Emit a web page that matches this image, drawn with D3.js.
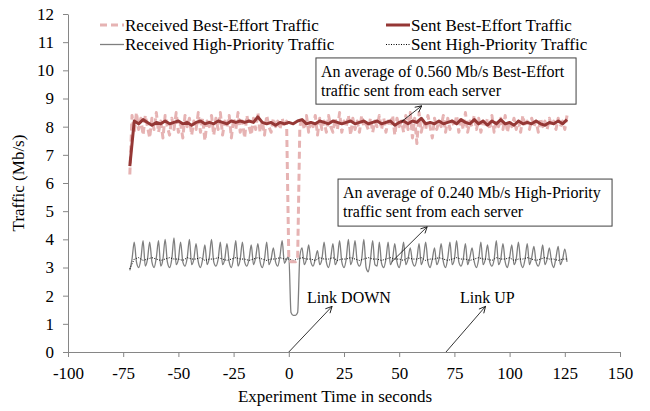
<!DOCTYPE html>
<html>
<head>
<meta charset="utf-8">
<script src="https://cdn.jsdelivr.net/npm/d3@7"></script>
<style>
  html, body { margin: 0; padding: 0; background: #fff; }
  svg text { font-family: "Liberation Serif", "Times New Roman", serif; fill: #000; }
</style>
</head>
<body>
<svg id="chart" width="650" height="411"></svg>
<script>
const xTicks = [-100, -75, -50, -25, 0, 25, 50, 75, 100, 125, 150];
const yTicks = [0, 1, 2, 3, 4, 5, 6, 7, 8, 9, 10, 11, 12];

// sampled from t = -72 s, one value per second
const recvBestEffort = [
  6.3, 8.4, 7.8, 8.5, 7.9, 8.3, 7.7, 8.4, 8.0, 7.6,
  8.3, 7.9, 8.5, 7.8, 8.2, 7.6, 8.4, 8.0, 7.7, 8.3,
  7.9, 8.5, 7.8, 8.1, 7.6, 8.4, 8.0, 8.3, 7.7, 8.2,
  7.9, 8.5, 7.8, 8.3, 7.5, 8.2, 8.0, 8.4, 7.7, 8.3,
  7.9, 8.5, 7.7, 8.2, 8.0, 8.4, 7.6, 8.3, 7.9, 8.5,
  7.8, 8.2, 7.6, 8.4, 8.0, 7.7, 8.3, 7.9, 8.5, 7.8,
  8.2, 7.7, 8.4, 8.0, 7.8, 8.3, 8.0, 8.2, 7.9, 8.3,
  8.0, 8.2, 3.3, 3.2, 3.2, 3.2, 3.3, 8.0, 8.3, 7.9,
  8.4, 7.8, 8.2, 8.0, 8.4, 7.7, 8.3, 7.9, 8.2, 7.8,
  8.4, 8.0, 7.8, 8.3, 7.9, 8.5, 7.8, 8.2, 8.0, 8.4,
  7.7, 8.3, 7.9, 8.2, 7.8, 8.4, 8.0, 8.1, 7.9, 8.3,
  7.8, 8.2, 8.0, 8.4, 7.9, 8.3, 7.8, 8.2, 8.0, 8.4,
  7.7, 8.3, 8.0, 8.2, 7.8, 8.4, 7.9, 8.5, 7.6, 8.3,
  7.4, 8.5, 7.8, 8.2, 7.9, 8.4, 8.0, 7.6, 8.3, 7.9,
  8.2, 8.0, 8.4, 7.8, 8.3, 7.9, 8.2, 8.0, 8.4, 7.8,
  8.3, 7.9, 8.5, 7.8, 8.2, 8.0, 8.4, 7.9, 8.3, 7.8,
  8.2, 8.0, 8.3, 7.9, 8.4, 7.8, 8.2, 8.0, 8.3, 7.9,
  8.4, 7.8, 8.2, 8.0, 8.3, 7.9, 8.2, 7.8, 8.4, 8.0,
  8.2, 7.9, 8.3, 8.0, 8.2, 7.8, 8.3, 8.0, 8.2, 7.9,
  8.3, 8.0, 8.2, 7.9, 8.3, 8.0, 8.2, 7.9, 8.4
];

// sampled from t = -72 s, one value every 2 seconds
const sentBestEffort = [
  6.6, 8.2, 8.1, 8.25, 8.15, 8.05, 8.15, 8.1, 8.2, 8.1,
  8.15, 8.2, 8.1, 8.15, 8.05, 8.15, 8.2, 8.1, 8.15, 8.1,
  8.2, 8.15, 8.1, 8.2, 8.15, 8.2, 8.15, 8.2, 8.15, 8.35,
  8.15, 8.1, 8.15, 8.05, 8.15, 8.1, 8.15, 8.1, 8.2, 8.25,
  8.1, 8.15, 8.1, 8.2, 8.15, 8.1, 8.2, 8.15, 8.1, 8.15,
  8.2, 8.1, 8.15, 8.2, 8.1, 8.15, 8.2, 8.1, 8.15, 8.2,
  8.05, 8.15, 8.2, 8.1, 8.2, 8.15, 8.3, 8.1, 8.15, 8.1,
  8.2, 8.1, 8.15, 8.2, 8.1, 8.25, 8.15, 8.1, 8.25, 8.1,
  8.2, 8.05, 8.2, 8.1, 8.25, 8.1, 8.15, 8.05, 8.2, 8.1,
  8.15, 8.1, 8.2, 8.1, 8.05, 8.15, 8.1, 8.2, 8.1, 8.25
];

// sampled from t = -72 s, one value per second
const recvHighPriority = [
  2.9, 3.3, 3.9, 3.2, 3.0, 3.3, 3.95, 3.05, 3.3, 3.9,
  3.2, 3.0, 3.35, 3.95, 3.05, 3.3, 4.0, 3.2, 3.0, 3.3,
  4.05, 3.1, 3.3, 3.9, 3.2, 3.05, 3.35, 4.0, 3.1, 3.3,
  3.85, 3.2, 3.0, 3.3, 3.8, 3.1, 3.35, 4.0, 3.2, 3.05,
  3.3, 3.9, 3.1, 3.3, 3.85, 3.2, 3.0, 3.35, 3.95, 3.05,
  3.3, 3.9, 3.2, 3.05, 3.3, 3.8, 3.1, 3.35, 3.85, 3.2,
  3.0, 3.3, 3.9, 3.1, 3.3, 3.7, 3.2, 3.05, 3.4, 3.95,
  3.15, 3.3, 3.4, 1.4, 1.3, 1.3, 1.4, 3.4, 3.7, 3.1,
  3.3, 3.8, 3.2, 3.05, 3.3, 3.6, 3.1, 3.3, 3.9, 3.2,
  3.0, 3.35, 3.85, 3.1, 3.3, 3.95, 3.2, 3.0, 3.3, 4.0,
  3.1, 3.35, 3.95, 3.2, 3.05, 3.3, 4.0, 3.0, 2.85, 3.3,
  3.95, 3.1, 3.05, 3.9, 3.15, 3.0, 3.3, 3.9, 3.1, 3.3,
  3.85, 3.2, 3.0, 3.35, 3.9, 3.1, 3.3, 3.7, 3.2, 3.05,
  3.3, 3.85, 3.1, 3.35, 3.9, 3.2, 3.0, 3.3, 3.7, 3.1,
  3.3, 3.85, 3.2, 3.0, 3.35, 3.9, 3.1, 3.3, 3.95, 3.2,
  3.05, 3.3, 3.85, 3.1, 3.35, 3.7, 3.2, 3.0, 3.3, 3.9,
  3.1, 3.3, 3.8, 3.2, 3.05, 3.3, 3.95, 3.1, 3.3, 3.85,
  3.2, 3.0, 3.35, 3.8, 3.1, 3.3, 3.9, 3.2, 3.0, 3.3,
  3.85, 3.1, 3.35, 3.75, 3.2, 3.05, 3.3, 3.8, 3.1, 3.3,
  3.7, 3.2, 3.0, 3.35, 3.75, 3.1, 3.3, 3.65, 3.2
];

// sampled from t = -72 s, one value every 2 seconds
const sentHighPriority = [
  2.95, 3.3, 3.35, 3.25, 3.3, 3.35, 3.3, 3.25, 3.3, 3.35,
  3.3, 3.3, 3.25, 3.35, 3.3, 3.3, 3.35, 3.25, 3.3, 3.3,
  3.35, 3.3, 3.25, 3.3, 3.35, 3.3, 3.3, 3.25, 3.3, 3.35,
  3.3, 3.25, 3.3, 3.3, 3.35, 3.3, 3.3, 3.25, 3.3, 3.35,
  3.3, 3.3, 3.25, 3.35, 3.3, 3.3, 3.35, 3.25, 3.3, 3.3,
  3.35, 3.3, 3.25, 3.3, 3.35, 3.3, 3.3, 3.25, 3.3, 3.35,
  3.3, 3.3, 3.25, 3.35, 3.3, 3.3, 3.35, 3.25, 3.3, 3.3,
  3.35, 3.3, 3.25, 3.3, 3.35, 3.3, 3.3, 3.25, 3.3, 3.35,
  3.3, 3.3, 3.25, 3.35, 3.3, 3.3, 3.35, 3.25, 3.3, 3.3,
  3.35, 3.3, 3.25, 3.3, 3.35, 3.3, 3.3, 3.25, 3.3, 3.3
];

const series = [
  { name: "Received High-Priority Traffic", values: recvHighPriority, start: -72, step: 1,
    color: "#7f7f7f", width: 1.3, dash: null, curve: d3.curveMonotoneX },
  { name: "Sent High-Priority Traffic", values: sentHighPriority, start: -72, step: 2,
    color: "#000000", width: 1, dash: "1,1.5", curve: d3.curveLinear },
  { name: "Received Best-Effort Traffic", values: recvBestEffort, start: -72, step: 1,
    color: "#e6b3b3", width: 3, dash: "7,4", curve: d3.curveLinear },
  { name: "Sent Best-Effort Traffic", values: sentBestEffort, start: -72, step: 2,
    color: "#953735", width: 3, dash: null, curve: d3.curveLinear }
];

const legendOrder = [
  "Received Best-Effort Traffic", "Sent Best-Effort Traffic",
  "Received High-Priority Traffic", "Sent High-Priority Traffic"
];

// annotation anchors in data units (seconds, Mb/s)
const notes = [
  { lines: ["An average of 0.560 Mb/s Best-Effort", "traffic sent from each server"],
    x0: 12.3, x1: 130.1, y0: 10.44, y1: 8.8, from: [51.1, 8.18], to: [60.2, 8.74] },
  { lines: ["An average of 0.240 Mb/s High-Priority", "traffic sent from each server"],
    x0: 22.3, x1: 146.4, y0: 6.14, y1: 4.47, from: [46.6, 3.2], to: [62.7, 4.45] }
];

const events = [
  { label: "Link DOWN", at: 0, textX: 8.2, textY: 1.74, tip: [19.6, 1.62] },
  { label: "Link UP", at: 71.2, textX: 77.5, textY: 1.74, tip: [89.1, 1.62] }
];

const svg = d3.select("#chart");
const axisColor = "#868686";
const labelSize = 17;

const x = d3.scaleLinear().domain([-100, 150]).range([68, 620]);
const y = d3.scaleLinear().domain([0, 12]).range([352, 14]);

svg.append("defs").append("marker")
  .attr("id", "arrow")
  .attr("viewBox", "0 0 10 10")
  .attr("refX", 9)
  .attr("refY", 5)
  .attr("markerWidth", 8)
  .attr("markerHeight", 8)
  .attr("markerUnits", "userSpaceOnUse")
  .attr("orient", "auto")
  .append("path")
  .attr("d", "M1,1 L9,5 L1,9")
  .attr("fill", "none")
  .attr("stroke", "#000")
  .attr("stroke-width", 1);

// axes (plain hyphen for negatives, like the original)
const plain = d => String(d);

const yAxis = svg.append("g")
  .attr("transform", `translate(${x(-100)},0)`)
  .call(d3.axisLeft(y).tickValues(yTicks).tickFormat(plain).tickSize(5).tickPadding(9).tickSizeOuter(0));

const xAxis = svg.append("g")
  .attr("transform", `translate(0,${y(0)})`)
  .call(d3.axisBottom(x).tickValues(xTicks).tickFormat(plain).tickSize(5).tickPadding(10).tickSizeOuter(0));

[yAxis, xAxis].forEach(g => {
  g.attr("font-family", null).attr("font-size", null);
  g.select(".domain").attr("stroke", axisColor);
  g.selectAll(".tick line").attr("stroke", axisColor);
  g.selectAll(".tick text").attr("font-size", labelSize).attr("fill", "#000");
});

svg.append("text")
  .attr("x", 335)
  .attr("y", 402)
  .attr("text-anchor", "middle")
  .attr("font-size", labelSize)
  .text("Experiment Time in seconds");

svg.append("text")
  .attr("transform", `translate(24,${(y(0) + y(12)) / 2}) rotate(-90)`)
  .attr("text-anchor", "middle")
  .attr("font-size", labelSize)
  .text("Traffic (Mb/s)");

// series lines
series.forEach(s => {
  const pts = s.values.map((v, i) => [s.start + i * s.step, v]);
  svg.append("path")
    .datum(pts)
    .attr("fill", "none")
    .attr("stroke", s.color)
    .attr("stroke-width", s.width)
    .attr("stroke-dasharray", s.dash)
    .attr("stroke-linejoin", "round")
    .attr("d", d3.line().x(d => x(d[0])).y(d => y(d[1])).curve(s.curve));
});

// legend
const legendCols = [100, 386];
const legendRows = [25, 44.5];
legendOrder.forEach((name, i) => {
  const s = series.find(d => d.name === name);
  const lx = legendCols[i % 2];
  const ly = legendRows[Math.floor(i / 2)];
  svg.append("line")
    .attr("x1", lx).attr("x2", lx + 24)
    .attr("y1", ly).attr("y2", ly)
    .attr("stroke", s.color)
    .attr("stroke-width", s.width)
    .attr("stroke-dasharray", s.dash);
  svg.append("text")
    .attr("x", lx + 25)
    .attr("y", ly)
    .attr("dy", "0.35em")
    .attr("font-size", labelSize)
    .text(name);
});

// annotation boxes
notes.forEach(n => {
  svg.append("line")
    .attr("x1", x(n.from[0])).attr("y1", y(n.from[1]))
    .attr("x2", x(n.to[0])).attr("y2", y(n.to[1]))
    .attr("stroke", "#000")
    .attr("stroke-width", 0.8)
    .attr("marker-end", "url(#arrow)");
  svg.append("rect")
    .attr("x", x(n.x0)).attr("y", y(n.y0))
    .attr("width", x(n.x1) - x(n.x0))
    .attr("height", y(n.y1) - y(n.y0))
    .attr("fill", "#fff")
    .attr("stroke", "#404040")
    .attr("stroke-width", 1);
  n.lines.forEach((line, i) => {
    svg.append("text")
      .attr("x", x(n.x0) + 5)
      .attr("y", y(n.y0) + 19 + i * 19)
      .attr("font-size", 16)
      .text(line);
  });
});

// link events
events.forEach(e => {
  svg.append("line")
    .attr("x1", x(e.at)).attr("y1", y(0))
    .attr("x2", x(e.tip[0])).attr("y2", y(e.tip[1]))
    .attr("stroke", "#000")
    .attr("stroke-width", 0.8)
    .attr("marker-end", "url(#arrow)");
  svg.append("text")
    .attr("x", x(e.textX))
    .attr("y", y(e.textY))
    .attr("font-size", 16)
    .text(e.label);
});
</script>
</body>
</html>
